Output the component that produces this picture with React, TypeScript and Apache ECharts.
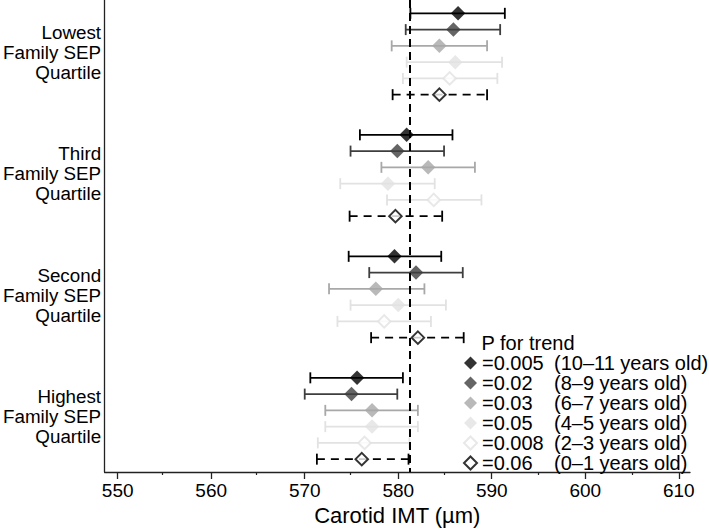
import React, { useEffect, useRef } from "react";
import * as echarts from "echarts";

// ---- data ----
const GROUPS = [
  "Lowest\nFamily SEP\nQuartile",
  "Third\nFamily SEP\nQuartile",
  "Second\nFamily SEP\nQuartile",
  "Highest\nFamily SEP\nQuartile",
];
const AGES = [
  "10–11 years old",
  "8–9 years old",
  "6–7 years old",
  "4–5 years old",
  "2–3 years old",
  "0–1 years old",
];
const P_TREND = ["0.005", "0.02", "0.03", "0.05", "0.008", "0.06"];

// mean IMT per age row, one value per SEP group (Lowest, Third, Second, Highest)
const MEAN_10_11 = [586.4, 580.9, 579.6, 575.6];
const MEAN_8_9 = [585.9, 579.9, 581.9, 575.0];
const MEAN_6_7 = [584.4, 583.2, 577.6, 577.2];
const MEAN_4_5 = [586.1, 578.9, 580.0, 577.2];
const MEAN_2_3 = [585.5, 583.8, 578.5, 576.4];
const MEAN_0_1 = [584.4, 579.7, 582.1, 576.1];

const LOW_10_11 = [581.3, 575.9, 574.7, 570.6];
const LOW_8_9 = [580.8, 574.9, 576.9, 570.0];
const LOW_6_7 = [579.3, 578.2, 572.6, 572.2];
const LOW_4_5 = [580.9, 573.8, 574.9, 572.2];
const LOW_2_3 = [580.5, 578.8, 573.5, 571.4];
const LOW_0_1 = [579.4, 574.8, 577.1, 571.3];

const HIGH_10_11 = [591.4, 585.8, 584.6, 580.5];
const HIGH_8_9 = [590.9, 584.9, 586.9, 579.9];
const HIGH_6_7 = [589.5, 588.2, 582.8, 582.1];
const HIGH_4_5 = [591.1, 583.9, 585.1, 582.1];
const HIGH_2_3 = [590.6, 588.9, 583.5, 581.2];
const HIGH_0_1 = [589.5, 584.7, 587.0, 581.1];

const REFERENCE_IMT = 581.2;

const MAJOR_TICKS = [550, 560, 570, 580, 590, 600, 610];
const MINOR_TICKS = [555, 565, 575, 585, 595, 605];

const MEANS = [MEAN_10_11, MEAN_8_9, MEAN_6_7, MEAN_4_5, MEAN_2_3, MEAN_0_1];
const LOWS = [LOW_10_11, LOW_8_9, LOW_6_7, LOW_4_5, LOW_2_3, LOW_0_1];
const HIGHS = [HIGH_10_11, HIGH_8_9, HIGH_6_7, HIGH_4_5, HIGH_2_3, HIGH_0_1];

// ---- styling / layout ----
const X_MIN = 548.6;
const X_MAX = 611.2;
const GROUP_SPACING = 7.47;
const FONT = "'Liberation Sans', Arial, Helvetica, sans-serif";
const AXIS_COLOR = "#222";
const STYLES = [
  { fill: "#000000", stroke: "#000000", hollow: false, dash: false },
  { fill: "#3e3e3e", stroke: "#3e3e3e", hollow: false, dash: false },
  { fill: "#a8a8a8", stroke: "#a8a8a8", hollow: false, dash: false },
  { fill: "#e2e2e2", stroke: "#e2e2e2", hollow: false, dash: false },
  { fill: "#ffffff", stroke: "#e2e2e2", hollow: true, dash: false },
  { fill: "#ffffff", stroke: "#000000", hollow: true, dash: true },
];

const rowPos = (g: number, r: number) => g * GROUP_SPACING + r;
const groupCenters = GROUPS.map((_, g) => rowPos(g, 2.38));
const GRID_BOX = { left: 102.7, right: 19, top: 0, bottom: 60 };

export default function App() {
  const ref = useRef<HTMLDivElement>(null);
  useEffect(() => {
    if (!ref.current) return;
    const chart = echarts.init(ref.current, null, { renderer: "svg" });

    const series: any[] = [];
    AGES.forEach((age, r) => {
      const st = STYLES[r];
      series.push({
        type: "custom",
        name: "bar-" + r,
        z: 2,
        silent: true,
        renderItem: (params: any, api: any) => {
          const lo = api.coord([api.value(0), api.value(2)]);
          const hi = api.coord([api.value(1), api.value(2)]);
          const cap = 5.5;
          const style = { stroke: st.stroke, lineWidth: 1.8, fill: "none" };
          return {
            type: "group",
            children: [
              {
                type: "line",
                shape: { x1: lo[0], y1: lo[1], x2: hi[0], y2: hi[1] },
                style: { ...style, lineDash: st.dash ? [8, 6] : null },
              },
              {
                type: "line",
                shape: { x1: lo[0], y1: lo[1] - cap, x2: lo[0], y2: lo[1] + cap },
                style,
              },
              {
                type: "line",
                shape: { x1: hi[0], y1: hi[1] - cap, x2: hi[0], y2: hi[1] + cap },
                style,
              },
            ],
          };
        },
        data: GROUPS.map((_, g) => [LOWS[r][g], HIGHS[r][g], rowPos(g, r)]),
      });
    });
    AGES.forEach((age, r) => {
      const st = STYLES[r];
      series.push({
        type: "scatter",
        name: age,
        z: 4,
        symbol: "diamond",
        symbolSize: st.hollow ? 12.5 : 14.5,
        itemStyle: st.hollow
          ? { color: st.fill, borderColor: st.stroke, borderWidth: 2 }
          : { color: st.fill },
        data: GROUPS.map((_, g) => [MEANS[r][g], rowPos(g, r)]),
        ...(r === 0
          ? {
              markLine: {
                silent: true,
                symbol: ["none", "none"],
                label: { show: false },
                lineStyle: { type: [8, 5], color: "#000", width: 2 },
                data: [{ xAxis: REFERENCE_IMT }],
              },
            }
          : {}),
      });
    });

    chart.setOption({
      animation: false,
      textStyle: { fontFamily: FONT },
      grid: [{ ...GRID_BOX }, { ...GRID_BOX }],
      title: {
        text: "P for trend",
        left: 481.5,
        top: 333,
        padding: 0,
        textStyle: { fontFamily: FONT, fontSize: 20, fontWeight: "normal", color: "#000" },
      },
      legend: {
        data: AGES,
        orient: "vertical",
        left: 463,
        top: 353,
        padding: 0,
        itemGap: 0,
        itemWidth: 13,
        itemHeight: 13,
        selectedMode: false,
        formatter: (name: string) => {
          const i = AGES.indexOf(name);
          return `{a|=${P_TREND[i]}}{b|(${name})}`;
        },
        textStyle: {
          fontFamily: FONT,
          fontSize: 20,
          color: "#000",
          lineHeight: 19.6,
          rich: {
            a: { width: 72, fontSize: 20, lineHeight: 19.6, fontFamily: FONT, color: "#000" },
            b: { fontSize: 20, lineHeight: 19.6, fontFamily: FONT, color: "#000" },
          },
        },
      },
      xAxis: [
        {
          type: "value",
          gridIndex: 0,
          min: X_MIN,
          max: X_MAX,
          position: "bottom",
          name: "Carotid IMT (µm)",
          nameLocation: "middle",
          nameGap: 32,
          nameTextStyle: { fontFamily: FONT, fontSize: 22, color: "#000" },
          axisLine: { show: true, onZero: false, lineStyle: { color: AXIS_COLOR, width: 1.3 } },
          axisTick: { show: true, length: 7, customValues: MAJOR_TICKS, lineStyle: { color: AXIS_COLOR, width: 1.3 } },
          axisLabel: {
            customValues: MAJOR_TICKS,
            fontFamily: FONT,
            fontSize: 19,
            color: "#000",
            margin: 9,
          },
          splitLine: { show: false },
        },
        {
          type: "value",
          gridIndex: 1,
          min: X_MIN,
          max: X_MAX,
          position: "bottom",
          axisLine: { show: false, onZero: false },
          axisTick: { show: true, length: 3, customValues: MINOR_TICKS, lineStyle: { color: AXIS_COLOR, width: 1.2 } },
          axisLabel: { show: false },
          splitLine: { show: false },
        },
      ],
      yAxis: [
        {
          type: "value",
          gridIndex: 0,
          inverse: true,
          min: -0.82,
          max: 28.2,
          axisLine: { show: true, onZero: false, lineStyle: { color: AXIS_COLOR, width: 1.3 } },
          axisTick: { show: false },
          splitLine: { show: false },
          axisLabel: {
            customValues: groupCenters,
            formatter: (v: number) => {
              const i = groupCenters.findIndex((c) => Math.abs(c - v) < 0.01);
              return i >= 0 ? GROUPS[i] : "";
            },
            fontFamily: FONT,
            fontSize: 18.8,
            lineHeight: 20,
            color: "#000",
            margin: 3.5,
            align: "right",
          },
        },
        {
          type: "value",
          gridIndex: 1,
          show: false,
          min: 0,
          max: 1,
        },
      ],
      series,
    });
    return () => chart.dispose();
  }, []);
  return (
    <div
      ref={ref}
      style={{ position: "fixed", left: 0, top: 0, width: 709, height: 532, background: "#fff" }}
    />
  );
}
